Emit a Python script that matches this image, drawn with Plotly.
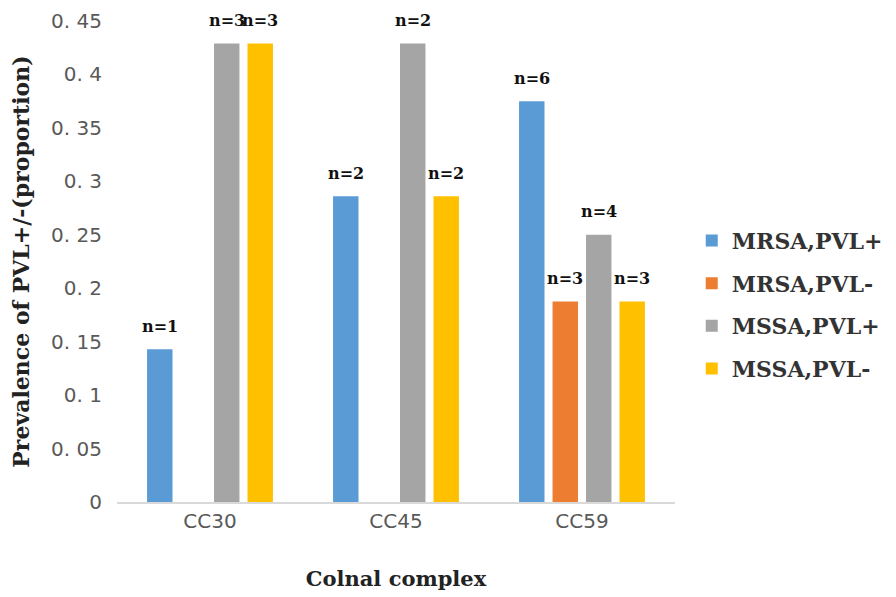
import plotly.graph_objects as go

categories = ["CC30", "CC45", "CC59"]
series_names = ["MRSA,PVL+", "MRSA,PVL-", "MSSA,PVL+", "MSSA,PVL-"]
mrsa_pvl_pos = [0.143, 0.286, 0.375]
mrsa_pvl_neg = [0.0, 0.0, 0.1875]
mssa_pvl_pos = [0.429, 0.429, 0.25]
mssa_pvl_neg = [0.429, 0.286, 0.1875]
n_mrsa_pvl_pos = [1, 2, 6]
n_mrsa_pvl_neg = [0, 0, 3]
n_mssa_pvl_pos = [3, 2, 4]
n_mssa_pvl_neg = [3, 2, 3]
y_tickvals = [0, 0.05, 0.1, 0.15, 0.2, 0.25, 0.3, 0.35, 0.4, 0.45]
y_ticktext = ["0", "0. 05", "0. 1", "0. 15", "0. 2", "0. 25", "0. 3", "0. 35", "0. 4", "0. 45"]

values = [mrsa_pvl_pos, mrsa_pvl_neg, mssa_pvl_pos, mssa_pvl_neg]
counts = [n_mrsa_pvl_pos, n_mrsa_pvl_neg, n_mssa_pvl_pos, n_mssa_pvl_neg]
colors = ["#5B9BD5", "#ED7D31", "#A5A5A5", "#FFC000"]

W, H = 896, 597
ML, MR, MT, MB = 109, 229, 13, 103
BARGAP = 0.28
BARGROUPGAP = 0.24

serif = "DejaVu Serif"

fig = go.Figure()
for i, (name, vals) in enumerate(zip(series_names, values)):
    fig.add_trace(go.Bar(
        x=categories, y=vals, name=name, marker_color=colors[i],
        marker_line_width=0, legendgroup=name, cliponaxis=False,
    ))

# annotations "n=k" above each non-zero bar
plot_w = W - ML - MR
slot = plot_w / len(categories) * (1 - BARGAP) / len(series_names)
annotations = []
for i, (vals, cnts) in enumerate(zip(values, counts)):
    for j, cat in enumerate(categories):
        if cnts[j] > 0:
            annotations.append(dict(
                x=cat, y=vals[j], xref="x", yref="y",
                text=f"n={cnts[j]}", showarrow=False,
                xshift=(i - (len(series_names) - 1) / 2) * slot,
                yshift=23, yanchor="middle",
                font=dict(family=serif, size=16, color="#111111", weight="bold"),
            ))

fig.update_layout(
    width=W, height=H,
    margin=dict(l=ML, r=MR, t=MT, b=MB),
    paper_bgcolor="white", plot_bgcolor="white",
    barmode="group", bargap=BARGAP, bargroupgap=BARGROUPGAP,
    annotations=annotations,
    legend=dict(
        x=1.03, xanchor="left", y=0.41, yanchor="middle",
        font=dict(family=serif, size=22, color="#333333", weight="bold"),
        tracegroupgap=11, traceorder="grouped",
    ),
    xaxis=dict(
        automargin=False,
        showline=True, linecolor="#D9D9D9", linewidth=1.5,
        ticks="", showgrid=False,
        tickfont=dict(family="DejaVu Sans", size=20, color="#595959"),
        title=dict(text="Colnal complex", standoff=40,
                   font=dict(family=serif, size=21, color="#222222", weight="bold")),
    ),
    yaxis=dict(
        automargin=False,
        range=[0, 0.45], tickvals=y_tickvals, ticktext=y_ticktext,
        showgrid=False, zeroline=False, showline=False, ticks="",
        ticklabelstandoff=14, ticklabeloverflow="allow",
        tickfont=dict(family="DejaVu Sans", size=20, color="#595959"),
        title=dict(text="Prevalence of PVL+/-(proportion)",
                   font=dict(family=serif, size=22, color="#222222", weight="bold")),
    ),
)

fig.write_html("out.html")
